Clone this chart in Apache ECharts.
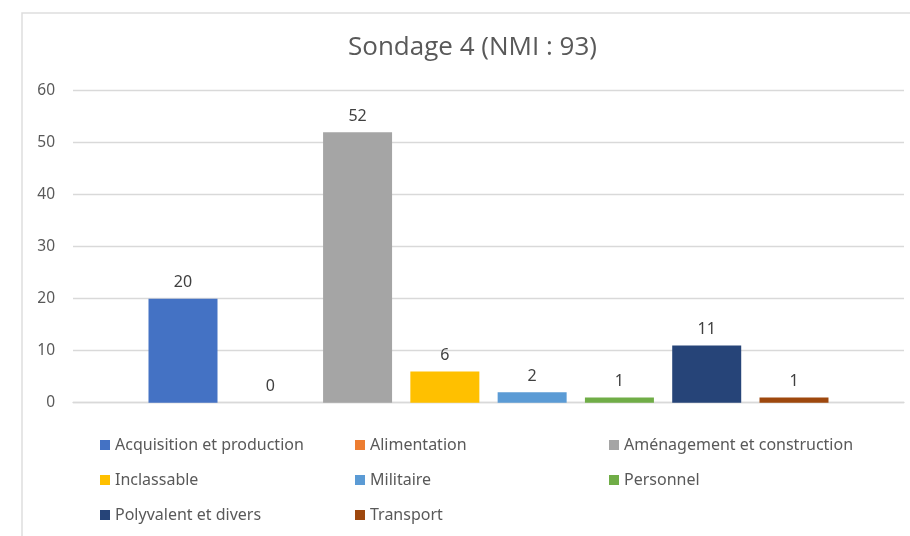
<!DOCTYPE html>
<html>
<head>
<meta charset="utf-8">
<script src="https://cdn.jsdelivr.net/npm/echarts@6/dist/echarts.min.js"></script>
<style>
  html, body { margin: 0; padding: 0; background: #ffffff; }
  #chart { width: 910px; height: 536px; }
</style>
</head>
<body>
<div id="chart"></div>
<script>
// Functional categories of the finds, one bar per category
const categories = ['Sondage 4'];
const seriesNames = [
  'Acquisition et production',
  'Alimentation',
  'Aménagement et construction',
  'Inclassable',
  'Militaire',
  'Personnel',
  'Polyvalent et divers',
  'Transport'
];
const seriesValues = [20, 0, 52, 6, 2, 1, 11, 1];
const seriesColors = ['#4472C4', '#ED7D31', '#A5A5A5', '#FFC000', '#5B9BD5', '#70AD47', '#264478', '#9E480E'];
const yTicks = { min: 0, max: 60, interval: 10 };
const titleText = 'Sondage 4 (NMI : 93)';

// Legend columns
const legendColumns = [
  { left: 100, names: [seriesNames[0], seriesNames[3], seriesNames[6]] },
  { left: 355, names: [seriesNames[1], seriesNames[4], seriesNames[7]] },
  { left: 609, names: [seriesNames[2], seriesNames[5]] }
];

const textFont = 'Noto Sans';
const textGray = '#595959';

const chart = echarts.init(document.getElementById('chart'), null, { renderer: 'canvas' });

const series = seriesNames.map((name, i) => ({
  name: name,
  type: 'bar',
  data: [seriesValues[i]],
  barWidth: 69,
  barGap: '26.5%',
  itemStyle: { color: seriesColors[i] },
  label: {
    show: true,
    position: 'top',
    distance: 8,
    color: '#404040',
    fontFamily: textFont,
    fontSize: 16
  },
  emphasis: { disabled: true }
}));

const legends = legendColumns.map(col => ({
  orient: 'vertical',
  left: col.left,
  top: 435,
  data: col.names,
  icon: 'rect',
  itemWidth: 10,
  itemHeight: 10,
  itemGap: 15,
  selectedMode: false,
  padding: 0,
  textStyle: {
    color: textGray,
    fontFamily: textFont,
    fontSize: 16,
    lineHeight: 20
  }
}));

chart.setOption({
  animation: false,
  backgroundColor: '#ffffff',
  title: {
    text: titleText,
    left: 348,
    top: 35,
    padding: 0,
    textStyle: {
      color: textGray,
      fontFamily: 'Open Sans',
      fontWeight: 'normal',
      fontSize: 26
    }
  },
  graphic: [{
    type: 'rect',
    shape: { x: 22, y: 13, width: 920, height: 560 },
    style: { fill: 'none', stroke: '#dedede', lineWidth: 1.5 },
    silent: true,
    z: -1
  }],
  legend: legends,
  grid: {
    left: 73,
    right: 6,
    top: 90.7,
    bottom: 133.3,
    containLabel: false
  },
  xAxis: {
    type: 'category',
    data: categories,
    axisLabel: { show: false },
    axisTick: { show: false },
    axisLine: { show: true, lineStyle: { color: '#d9d9d9', width: 1.3 } }
  },
  yAxis: {
    type: 'value',
    min: yTicks.min,
    max: yTicks.max,
    interval: yTicks.interval,
    axisLine: { show: false },
    axisTick: { show: false },
    axisLabel: {
      color: textGray,
      fontFamily: textFont,
      fontSize: 15.5,
      margin: 18
    },
    splitLine: { lineStyle: { color: '#d9d9d9', width: 1.3 } }
  },
  series: series
});
</script>
</body>
</html>
